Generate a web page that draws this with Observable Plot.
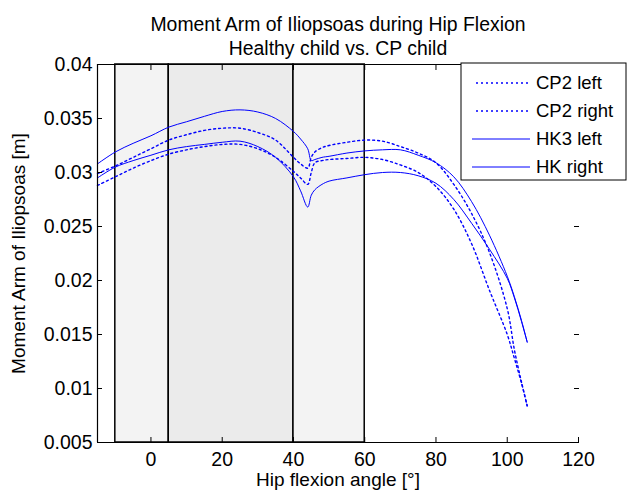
<!DOCTYPE html>
<html><head><meta charset="utf-8">
<script src="https://cdn.jsdelivr.net/npm/d3@7"></script>
<script src="https://cdn.jsdelivr.net/npm/@observablehq/plot@0.6"></script>
<style>body{margin:0;background:#fff}</style>
</head><body><div id="chart"></div>
<script>
const angles   = [-15, -10, -5, 0, 5, 10, 15, 20, 25, 30, 35, 40, 42, 44, 45, 46, 48, 50, 55, 60, 65, 70, 75, 80, 85, 90, 95, 100, 102, 104, 105.6];
const cp2Left  = [0.0299, 0.0306, 0.0314, 0.0322, 0.0330, 0.0335, 0.0339, 0.0341, 0.0341, 0.0337, 0.0330, 0.0314, 0.0308, 0.0304, 0.0314, 0.0319, 0.0323, 0.0325, 0.0328, 0.0330, 0.0329, 0.0324, 0.0318, 0.0309, 0.0289, 0.0262, 0.0226, 0.0174, 0.0136, 0.0106, 0.0084];
const cp2Right = [0.0288, 0.0296, 0.0304, 0.0311, 0.0317, 0.0321, 0.0324, 0.0326, 0.0326, 0.0322, 0.0314, 0.0301, 0.0295, 0.0289, 0.0300, 0.0309, 0.0311, 0.0312, 0.0313, 0.0314, 0.0312, 0.0307, 0.0300, 0.0287, 0.0266, 0.0234, 0.0191, 0.0150, 0.0128, 0.0105, 0.0084];
const hk3Left  = [0.0308, 0.0319, 0.0327, 0.0334, 0.0342, 0.0347, 0.0352, 0.03565, 0.0358, 0.0356, 0.0350, 0.0338, 0.0331, 0.0322, 0.0311, 0.0312, 0.0314, 0.0315, 0.0318, 0.0320, 0.0321, 0.0321, 0.0316, 0.0309, 0.0296, 0.0273, 0.0242, 0.0204, 0.0185, 0.0163, 0.0143];
const hkRight  = [0.0295, 0.0305, 0.0311, 0.0316, 0.0321, 0.0324, 0.0326, 0.0328, 0.0329, 0.0324, 0.0314, 0.0296, 0.0283, 0.0268, 0.0279, 0.0284, 0.0289, 0.0292, 0.0295, 0.0298, 0.0300, 0.0300, 0.0297, 0.0290, 0.0275, 0.0253, 0.0229, 0.0202, 0.0184, 0.0162, 0.0143];

const seriesNames  = ["CP2 left", "CP2 right", "HK3 left", "HK right"];
const seriesDashed = [true, true, false, false];
const xTicks = [0, 20, 40, 60, 80, 100, 120];
const yTicks = [0.005, 0.01, 0.015, 0.02, 0.025, 0.03, 0.035, 0.04];
const xDomain = [-15, 120];
const yDomain = [0.005, 0.04];
const phaseStart = [-10, 5, 40];
const phaseEnd   = [5, 40, 60];
const phaseShade = ["#f3f3f3", "#ebebeb", "#f3f3f3"];

const seriesValues = [cp2Left, cp2Right, hk3Left, hkRight];
const rows = [];
seriesNames.forEach((name, i) => {
  angles.forEach((a, j) => rows.push({angle: a, value: seriesValues[i][j], series: name, dashed: seriesDashed[i]}));
});
const phases = phaseStart.map((s, i) => ({start: s, end: phaseEnd[i], shade: phaseShade[i], y1: yDomain[0], y2: yDomain[1]}));

const BLUE = "#0000ff";
const FONT = "'Liberation Sans', Arial, sans-serif";
const DOTS = "2,3";

const chart = Plot.plot({
  width: 631, height: 495,
  marginLeft: 97, marginRight: 53, marginTop: 64, marginBottom: 53,
  x: {domain: xDomain},
  y: {domain: yDomain},
  color: {type: "identity"},
  style: {fontFamily: FONT, fontSize: "19px", color: "#000", background: "#fff", overflow: "visible"},
  marks: [
    Plot.rect(phases, {x1: "start", x2: "end", y1: "y1", y2: "y2", fill: "shade", stroke: "#000", strokeWidth: 1.5}),
    Plot.line(rows.filter(d => d.dashed), {x: "angle", y: "value", z: "series", stroke: BLUE, strokeWidth: 1.4, strokeDasharray: DOTS, curve: "catmull-rom"}),
    Plot.line(rows.filter(d => !d.dashed), {x: "angle", y: "value", z: "series", stroke: BLUE, strokeWidth: 1, curve: "catmull-rom"}),
    Plot.ruleX([xDomain[0]], {stroke: "#000", strokeWidth: 1.2}),
    Plot.ruleY([yDomain[0]], {stroke: "#000", strokeWidth: 1.2}),
    Plot.ruleY([yDomain[1]], {stroke: "#000", strokeWidth: 1}),
    Plot.axisX({anchor: "bottom", ticks: xTicks, tickSize: -5, tickFormat: () => "", label: null}),
    Plot.axisX({anchor: "top", ticks: xTicks, tickSize: -5, tickFormat: () => "", label: null}),
    Plot.axisY({anchor: "left", ticks: yTicks, tickSize: -5, tickFormat: () => "", label: null}),
    Plot.axisY({anchor: "right", ticks: yTicks, tickSize: -5, tickFormat: () => "", label: null}),
    Plot.axisX({anchor: "bottom", ticks: xTicks, tickSize: 0, tickPadding: 10, label: null, fontSize: 19.5}),
    Plot.axisY({anchor: "left", ticks: yTicks, tickSize: 0, tickPadding: 5, label: null, fontSize: 19.5, tickFormat: d => String(+d.toFixed(3))}),
    Plot.text(["Moment Arm of Iliopsoas during Hip Flexion"], {frameAnchor: "top", dy: -47, text: d => d, fontSize: 19.4}),
    Plot.text(["Healthy child vs. CP child"], {frameAnchor: "top", dy: -23, text: d => d, fontSize: 19.4}),
    Plot.text(["Hip flexion angle [°]"], {frameAnchor: "bottom", dy: 43, text: d => d, fontSize: 19}),
    Plot.text(["Moment Arm of Iliopsoas [m]"], {frameAnchor: "left", dx: -79, rotate: -90, textAnchor: "middle", text: d => d, fontSize: 19})
  ]
});
document.getElementById("chart").appendChild(chart);

// Legend box (layout only)
const svg = d3.select(chart);
const lg = svg.append("g").attr("font-family", FONT).attr("font-size", 18.5).attr("text-anchor", "start");
lg.append("rect").attr("x", 461).attr("y", 63).attr("width", 165).attr("height", 117)
  .attr("fill", "#fff").attr("stroke", "#000").attr("stroke-width", 1);
seriesNames.forEach((name, i) => {
  const y = 83 + i * 28;
  lg.append("line").attr("x1", seriesDashed[i] ? 476 : 472).attr("x2", 530).attr("y1", y).attr("y2", y)
    .attr("stroke", BLUE).attr("stroke-width", seriesDashed[i] ? 1.4 : 1)
    .attr("stroke-dasharray", seriesDashed[i] ? DOTS : null);
  lg.append("text").attr("x", 536).attr("y", y).attr("dy", "0.35em").attr("fill", "#000").attr("text-anchor", "start").text(name);
});
</script>
</body></html>
